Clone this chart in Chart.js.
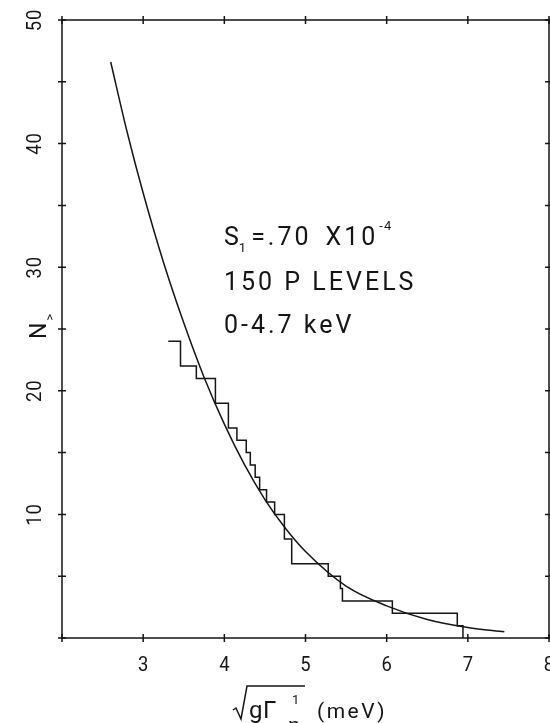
<!DOCTYPE html>
<html>
<head>
<meta charset="utf-8">
<script src="https://cdn.jsdelivr.net/npm/chart.js@4"></script>
<style>
  body { margin: 0; background: #fff; }
  canvas { display: block; }
</style>
</head>
<body>
<canvas id="chart" width="550" height="723"></canvas>
<script>
// axis ranges and tick labels
const xTickVals = [2, 3, 4, 5, 6, 7, 8];
const xTickLabels = ['', '3', '4', '5', '6', '7', '8'];
const yTickVals = [0, 5, 10, 15, 20, 25, 30, 35, 40, 45, 50];
const yTickLabels = ['', '', '10', '', '20', '', '30', '', '40', '', '50'];

// smooth fitted curve
const curveX = [2.6, 2.8, 3.0, 3.25, 3.5, 3.75, 4.0, 4.25, 4.5, 4.75, 5.0, 5.5, 6.0, 6.5, 7.0, 7.45];
const curveN = [46.6, 41.0, 36.0, 30.4, 25.5, 21.1, 17.3, 14.0, 11.2, 8.9, 7.0, 4.2, 2.6, 1.5, 0.85, 0.5];

// cumulative level count (staircase)
const stepX = [3.31, 3.46, 3.655, 3.89, 4.05, 4.155, 4.27, 4.32, 4.38, 4.435, 4.52, 4.62, 4.74, 4.83, 5.28, 5.43, 5.455, 6.07, 6.87, 6.94];
const stepN = [24, 22, 21, 19, 17, 16, 15, 14, 13, 12, 11, 10, 8, 6, 5, 4, 3, 2, 1, 0];

const INK = '#151515';
const FONT = '"Roboto", "DejaVu Sans", sans-serif';
const WEIGHT = 400;

function setFont(ctx, size, sp) {
    ctx.font = WEIGHT + ' ' + size + 'px ' + FONT;
    ctx.letterSpacing = (sp || 0) + 'px';
}
function txt(ctx, s, x, y, size, align, sp, sx) {
    ctx.save();
    ctx.translate(x, y);
    ctx.scale(sx || 1, 1);
    setFont(ctx, size, sp);
    ctx.textAlign = align || 'left';
    ctx.textBaseline = 'alphabetic';
    ctx.fillText(s, 0, 0);
    ctx.restore();
}
function txtW(ctx, s, size, sp) {
    ctx.save();
    setFont(ctx, size, sp);
    const w = ctx.measureText(s).width;
    ctx.restore();
    return w;
}
// pieces [text, size, dy, gapAfter, spacing] drawn one after another
function runText(ctx, parts, x, y) {
    let cx = x;
    parts.forEach(p => {
        txt(ctx, p[0], cx, y + (p[2] || 0), p[1], 'left', p[4]);
        cx += txtW(ctx, p[0], p[1], p[4]) + (p[3] || 0);
    });
    return cx;
}

const framePlugin = {
    id: 'frame',
    afterDraw(chart) {
        const ctx = chart.ctx;
        const a = chart.chartArea;
        const xs = chart.scales.x, ys = chart.scales.y;
        ctx.save();
        ctx.strokeStyle = INK;
        ctx.fillStyle = INK;
        ctx.lineWidth = 1.5;
        ctx.strokeRect(a.left, a.top, a.right - a.left, a.bottom - a.top);

        // crossing tick marks on all four sides
        ctx.beginPath();
        xTickVals.forEach(v => {
            const px = xs.getPixelForValue(v);
            ctx.moveTo(px, a.bottom - 4); ctx.lineTo(px, a.bottom + 4);
            ctx.moveTo(px, a.top - 4); ctx.lineTo(px, a.top + 4);
        });
        yTickVals.forEach(v => {
            const py = ys.getPixelForValue(v);
            ctx.moveTo(a.left - 4, py); ctx.lineTo(a.left + 4, py);
            ctx.moveTo(a.right - 4, py); ctx.lineTo(a.right + 4, py);
        });
        ctx.stroke();

        // x tick labels
        xTickVals.forEach((v, i) => {
            txt(ctx, xTickLabels[i], xs.getPixelForValue(v), a.bottom + 33, 20, 'center', 0, 0.92);
        });
        // y tick labels, rotated
        yTickVals.forEach((v, i) => {
            if (!yTickLabels[i]) return;
            ctx.save();
            ctx.translate(a.left - 21, ys.getPixelForValue(v));
            ctx.rotate(-Math.PI / 2);
            txt(ctx, yTickLabels[i], 0, 0, 20, 'center', 1, 0.92);
            ctx.restore();
        });

        // y title: N with subscript >
        ctx.save();
        ctx.translate(a.left - 16, 339);
        ctx.rotate(-Math.PI / 2);
        runText(ctx, [['N', 23, 0, 2], ['>', 13, 8]], 0, 0);
        ctx.restore();

        // x title: sqrt(g Gamma^1_n) (meV)
        const bx = 233, by = 718;
        ctx.beginPath();
        ctx.moveTo(bx, by - 8);
        ctx.lineTo(bx + 3, by - 10);
        ctx.lineTo(bx + 8, by + 1);
        ctx.lineTo(bx + 14, by - 32);
        ctx.lineTo(bx + 72, by - 32);
        ctx.stroke();
        txt(ctx, 'g', bx + 16, by, 24);
        txt(ctx, 'Γ', bx + 30, by, 24);
        txt(ctx, '1', bx + 59, by - 14, 13);
        txt(ctx, 'n', bx + 55, by + 15, 22);
        txt(ctx, '(meV)', bx + 84, by, 21, 'left', 2.5);

        // annotation
        const tx = 224;
        runText(ctx, [['S', 25, 0, 0], ['1', 13, 7, 5], ['=.70', 25, 0, 14, 3], ['X10', 25, 0, 1, 3], ['-4', 13, -15, 0, 1]], tx, 245);
        txt(ctx, '150 P LEVELS', tx, 290, 25, 'left', 3);
        txt(ctx, '0-4.7 keV', tx, 333, 25, 'left', 3);
        ctx.restore();
    }
};

new Chart(document.getElementById('chart'), {
    type: 'scatter',
    data: {
        datasets: [{
            label: 'fit',
            data: curveX.map((x, i) => ({ x, y: curveN[i] })),
            showLine: true,
            borderColor: INK,
            borderWidth: 1.5,
            pointRadius: 0,
            cubicInterpolationMode: 'monotone'
        }, {
            label: 'levels',
            data: stepX.map((x, i) => ({ x, y: stepN[i] })),
            showLine: true,
            stepped: true,
            borderColor: INK,
            borderWidth: 1.5,
            pointRadius: 0
        }]
    },
    options: {
        responsive: false,
        animation: false,
        layout: { padding: { top: 20, right: 1, left: 0, bottom: 0 } },
        plugins: { legend: { display: false }, tooltip: { enabled: false } },
        scales: {
            x: {
                type: 'linear', min: 2, max: 8,
                grid: { display: false, drawTicks: false },
                border: { display: false },
                ticks: { display: false },
                afterFit: s => { s.height = 85; }
            },
            y: {
                type: 'linear', min: 0, max: 50,
                grid: { display: false, drawTicks: false },
                border: { display: false },
                ticks: { display: false },
                afterFit: s => { s.width = 62; }
            }
        }
    },
    plugins: [framePlugin]
});
</script>
</body>
</html>
